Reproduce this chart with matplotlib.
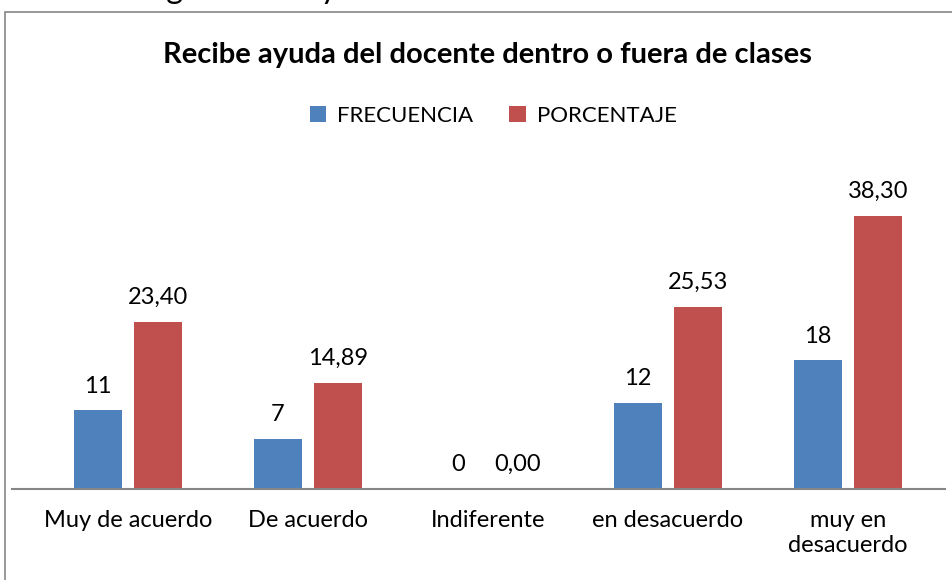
import matplotlib.pyplot as plt
import matplotlib.patches as patches
import numpy as np

plt.rcParams['font.family'] = ['Lato', 'DejaVu Sans']

categorias = ["Muy de acuerdo", "De acuerdo", "Indiferente", "en desacuerdo", "muy en\ndesacuerdo"]
frecuencia = [11, 7, 0, 12, 18]
porcentaje = [23.40, 14.89, 0.00, 25.53, 38.30]

azul = "#4F81BD"
rojo = "#C0504D"

fig = plt.figure(figsize=(9.52, 5.8), dpi=100)
ax = fig.add_axes([12/952, 0.1569, 933/952, 0.6155])

x = np.arange(len(categorias))
off = 0.167
w = 0.267
b1 = ax.bar(x - off, frecuencia, w, color=azul, label="FRECUENCIA")
b2 = ax.bar(x + off, porcentaje, w, color=rojo, label="PORCENTAJE")

for rect, v in zip(b1, frecuencia):
    ax.annotate(str(v), (rect.get_x() + rect.get_width()/2, v), xytext=(0, 10),
                textcoords="offset points", ha="center", va="bottom", fontsize=17)
for rect, v in zip(b2, porcentaje):
    ax.annotate(f"{v:.2f}".replace(".", ","), (rect.get_x() + rect.get_width()/2, v), xytext=(0, 10),
                textcoords="offset points", ha="center", va="bottom", fontsize=17)

ax.set_xlim(-0.644, 4.54)
ax.set_ylim(0, 50)
ax.set_xticks(x)
ax.set_xticklabels(categorias, fontsize=17, va="top", linespacing=1.25)
ax.tick_params(axis="x", length=0, pad=15)
ax.set_yticks([])
for s in ["top", "left", "right"]:
    ax.spines[s].set_visible(False)
ax.spines["bottom"].set_color("#868686")
ax.spines["bottom"].set_linewidth(1.5)

fig.text(0.512, 0.905, "Recibe ayuda del docente dentro o fuera de clases",
         ha="center", va="center", fontsize=21, fontweight="bold")
ax.legend(loc="center", bbox_to_anchor=(0.518, 0.8), bbox_transform=fig.transFigure, ncol=2,
          frameon=False, fontsize=16, handlelength=0.75, handleheight=0.75, columnspacing=1.6,
          handletextpad=0.5)

# texto superior cortado por el borde de la imagen
fig.text(917/952, 1 + 2/580, "Fig. Recibe ayuda del docente dentro o fuera de clases",
         ha="right", va="baseline", fontsize=23.5)

fig.patches.append(patches.Rectangle((5/952, -0.05), 1.1, (580-12)/580 + 0.05,
                                     transform=fig.transFigure, fill=False,
                                     edgecolor="#868686", linewidth=1.2))

fig.savefig("out.png", dpi=100)
